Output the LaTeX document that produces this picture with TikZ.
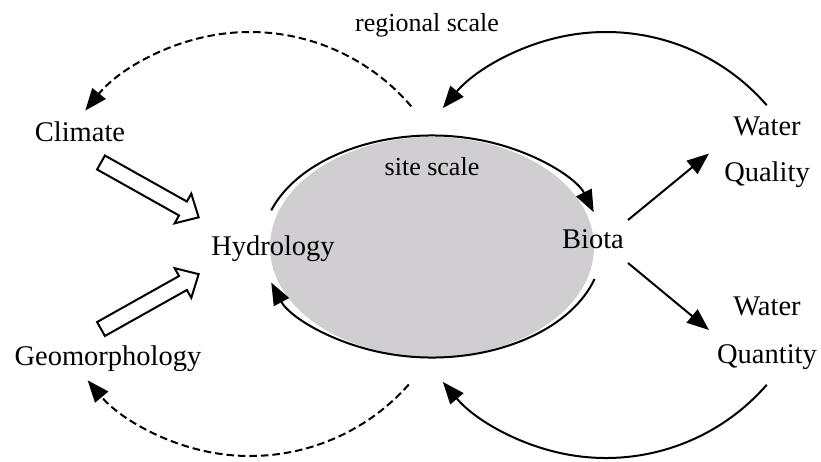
\documentclass[tikz,border=0pt]{standalone}
\usepackage{fontspec}
\setmainfont{Liberation Serif}
\usetikzlibrary{arrows.meta,shapes.geometric}
\definecolor{sitegray}{RGB}{208,206,208}
\begin{document}
\begin{tikzpicture}[x=1pt,y=-1pt,
  lbl/.style={font=\fontsize{28.5}{34}\selectfont, inner sep=0pt, anchor=base},
  scl/.style={font=\fontsize{26}{31}\selectfont, inner sep=0pt, anchor=base},
  conn/.style={line width=2pt, -{Triangle[length=22pt,width=17pt]}},
  dconn/.style={conn, dash pattern=on 7.5pt off 4pt},
  hollowarrow/.pic={\draw[line width=2pt, fill=white, line join=miter]
     (0pt,-8pt) -- (94pt,-8pt) -- (94pt,-17pt) -- (112pt,0pt) -- (94pt,17pt)
     -- (94pt,8pt) -- (0pt,8pt) -- cycle;}
]
\useasboundingbox (0,0) rectangle (821,461);
% site-scale ellipse
\node[ellipse, fill=sitegray, minimum width=324pt, minimum height=220pt, inner sep=0pt] (site) at (432,247) {};
% labels
\node[scl] (regional) at (427,31.7) {regional scale};
\node[scl] (sitelbl) at (432,175) {site scale};
\node[lbl] (climate) at (80,141.7) {Climate};
\node[lbl] (hydro) at (273,255) {Hydrology};
\node[lbl] (geo) at (108,365) {Geomorphology};
\node[lbl] (biota) at (593,248) {Biota};
\node[lbl] (wqa) at (767,135) {Water};
\node[lbl] (wqb) at (767,181.7) {Quality};
\node[lbl] (wna) at (767,315) {Water};
\node[lbl] (wnb) at (767,363) {Quantity};
% reference points
\coordinate (lc) at (250,244);
\coordinate (rc) at (606,245);
\coordinate (ec) at (432,246.5);
\coordinate (bq0) at (628,220);
\coordinate (bq1) at (709,153.5);
\coordinate (bn0) at (628,263);
\coordinate (bn1) at (709,330);
% site-scale loop arcs
\draw[conn] ([shift={(161:170pt and 111pt)}]ec) arc[start angle=161, end angle=18, x radius=170pt, y radius=111pt];
\draw[conn] ([shift={(-17:170pt and 111pt)}]ec) arc[start angle=-17, end angle=-161, x radius=170pt, y radius=111pt];
% regional-scale arcs
\draw[conn] ([shift={(41:213pt)}]rc) arc[start angle=41, end angle=140, radius=213pt];
\draw[conn] ([shift={(-41:213pt)}]rc) arc[start angle=-41, end angle=-140, radius=213pt];
\draw[dconn] ([shift={(40.5:212pt)}]lc) arc[start angle=40.5, end angle=141, radius=212pt];
\draw[dconn] ([shift={(-41.5:212pt)}]lc) arc[start angle=-41.5, end angle=-140, radius=212pt];
% biota outputs
\draw[conn] (bq0) -- (bq1);
\draw[conn] (bn0) -- (bn1);
% hollow block arrows
\pic (ca) [rotate=-29.3] at (101,162.5) {hollowarrow};
\pic (ga) [rotate=29.3] at (101,329) {hollowarrow};
\end{tikzpicture}
\end{document}
